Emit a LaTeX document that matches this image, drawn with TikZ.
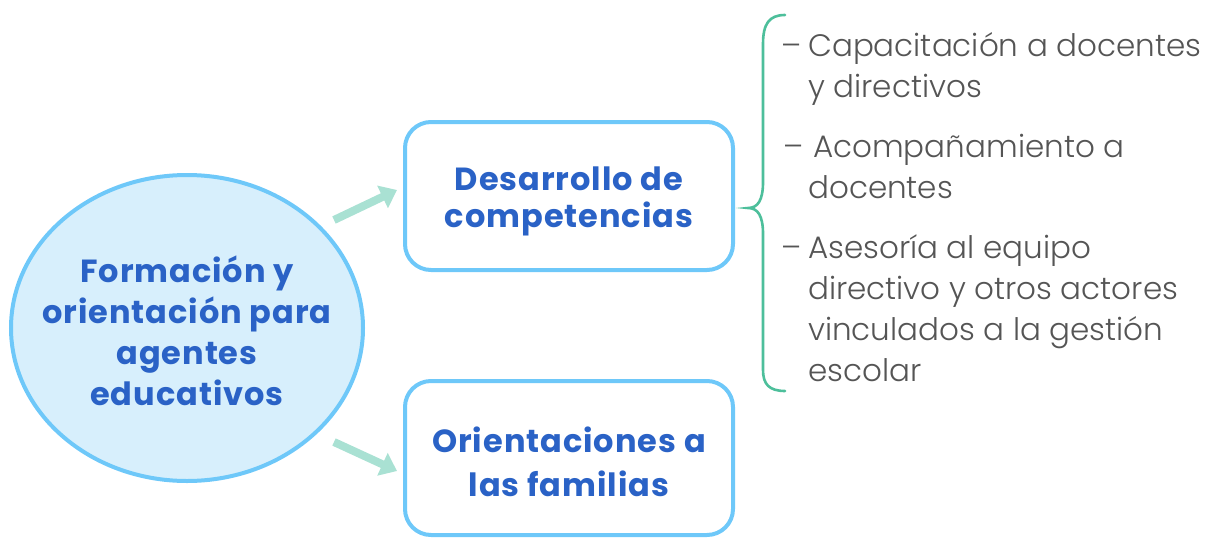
\documentclass[tikz,border=0pt]{standalone}
\usepackage{fontspec}
\setmainfont{Poppins Light}
\newfontfamily\headfont{Poppins}[LetterSpace=3]
\usetikzlibrary{arrows.meta,positioning,calc,shapes.geometric}
\definecolor{skyline}{HTML}{6EC8F9}
\definecolor{skyfill}{HTML}{D7EFFC}
\definecolor{titleblue}{HTML}{2A62C6}
\definecolor{mint}{HTML}{A9E1D3}
\definecolor{bracegreen}{HTML}{4DBF9B}
\definecolor{itemgray}{HTML}{555555}

\begin{document}
\begin{tikzpicture}[
x=1pt,y=-1pt,
hub/.style={ellipse,draw=skyline,fill=skyfill,line width=4pt,minimum width=352pt,minimum height=306pt,inner sep=0pt},
box/.style={rectangle,rounded corners=26pt,draw=skyline,fill=white,line width=4pt,inner sep=0pt},
title/.style={font=\headfont\bfseries\fontsize{32}{#1}\selectfont,text=titleblue,align=center},
item/.style={font=\fontsize{31}{41}\selectfont,text=itemgray,align=left,anchor=west,inner sep=0pt},
flow/.style={-{Triangle[length=16pt,width=24pt]},mint,line width=8pt}
]
\useasboundingbox (0,0) rectangle (1209,538);
% central ellipse
\node[hub] (form) at (187,328) {};
\node[title=41] at (187,331) {Formación y\\orientación para\\agentes\\educativos};
% the two boxes
\node[box,minimum width=328pt,minimum height=148pt] (desa) at (569,196) {};
\node[title=37] at (569,201) {Desarrollo de\\competencias};
\node[box,minimum width=328pt,minimum height=154pt] (orie) at (569,458) {};
\node[title=44] at (569,462) {Orientaciones a\\las familias};
% arrows
\coordinate (t1) at (334,220);
\coordinate (h1) at (397,190);
\coordinate (t2) at (334,442);
\coordinate (h2) at (397,471);
\draw[flow] (t1) -- (h1);
\draw[flow] (t2) -- (h2);
% brace
\draw[bracegreen,line width=2.6pt,line cap=round]
  (785,15) .. controls (769,15) and (763,24) .. (763,44) -- (763,182)
  .. controls (763,200) and (758,208) .. (748,208)
  .. controls (758,208) and (763,216) .. (763,234) -- (763,370)
  .. controls (763,384) and (769,391) .. (785,391);
% items
\node[item] (i1) at (808,68.5) {\llap{–\hspace{7pt}}Capacitación a docentes\\y directivos};
\node[item] (i2) at (808,166.5) {\llap{–\hspace{5pt}}\hspace{5pt}Acompañamiento a\\docentes};
\node[item] (i3) at (808,308.5) {\llap{–\hspace{7pt}}Asesoría al equipo\\directivo y otros actores\\vinculados a la gestión\\escolar};
\end{tikzpicture}
\end{document}
